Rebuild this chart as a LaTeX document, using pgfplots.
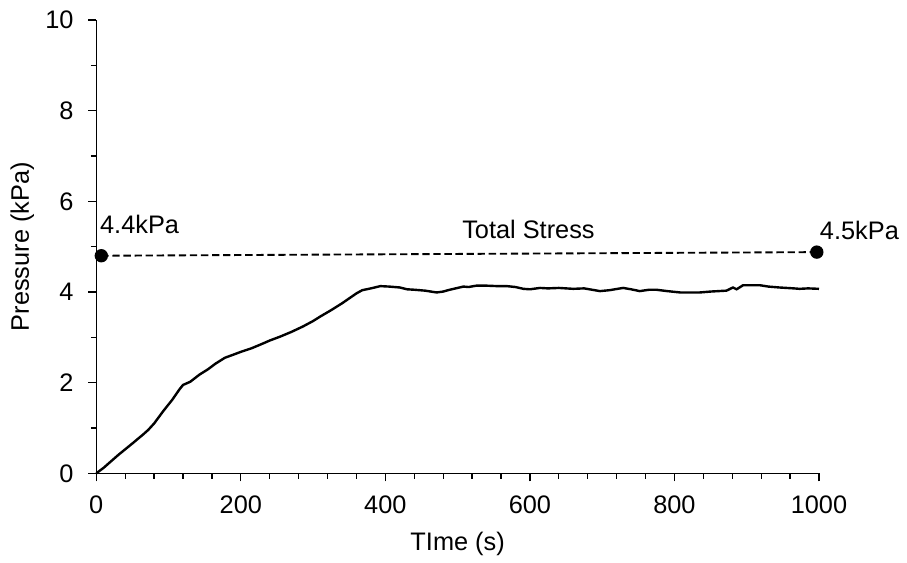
\documentclass[border=0pt]{standalone}
\usepackage{fontspec}
\setmainfont{Liberation Sans}
\usepackage{pgfplots}
\pgfplotsset{compat=1.18}
\begin{document}
\begin{tikzpicture}
\begin{axis}[
  name=ax,
  scale only axis,
  width=542pt, height=340pt,
  xmin=0, xmax=1000, ymin=0, ymax=10,
  axis x line=bottom, axis y line=left,
  axis line style={-, line width=0.9pt},
  xtick={0,200,...,1000}, minor xtick={40,80,...,960},
  ytick={0,2,...,10}, minor ytick={1,3,...,9},
  tick align=outside,
  major tick length=6pt, minor tick length=4pt,
  tick style={line width=0.9pt, black},
  /pgf/number format/assume math mode=true,
  /pgf/number format/1000 sep={},
  ticklabel style={font=\fontsize{19}{23}\selectfont},
  xticklabel style={yshift=-7.5pt},
  yticklabel style={xshift=-7.5pt},
  xlabel={TIme (s)},
  ylabel={Pressure (kPa)},
  xlabel style={font=\fontsize{19}{23}\selectfont, at={(axis description cs:0.5,0)}, anchor=base, yshift=-57.5pt},
  ylabel style={font=\fontsize{19}{23}\selectfont, at={([xshift=-50.5pt]axis description cs:0,0.5)}, anchor=base, rotate=0},
  clip=false,
]
\addplot[black, line width=1.8pt] coordinates {
(0,0) (10,0.12) (20,0.26) (30,0.40) (40,0.53) (50,0.66) (65,0.86) (72,0.96)
(80,1.10) (93,1.38) (105,1.62) (115,1.85) (120,1.95) (130,2.02) (143,2.18)
(155,2.30) (165,2.42) (178,2.55) (190,2.62) (200,2.68) (215,2.76) (230,2.86)
(240,2.93) (255,3.02) (270,3.12) (286,3.24) (300,3.36) (310,3.46) (325,3.60)
(340,3.75) (350,3.86) (360,3.97) (368,4.04) (380,4.08) (393,4.13) (405,4.12)
(420,4.10) (430,4.06) (440,4.05) (455,4.03) (471,3.99) (480,4.01) (489,4.05)
(500,4.09) (508,4.12) (515,4.11) (526,4.14) (540,4.14) (555,4.13) (568,4.13)
(580,4.11) (591,4.07) (600,4.06) (614,4.09) (625,4.08) (640,4.09) (660,4.07)
(675,4.08) (697,4.02) (710,4.04) (729,4.09) (740,4.06) (752,4.02) (765,4.05)
(775,4.05) (790,4.02) (808,3.99) (820,3.99) (835,3.99) (850,4.01) (872,4.03)
(881,4.10) (886,4.06) (895,4.15) (905,4.15) (918,4.15) (930,4.12) (945,4.10)
(955,4.09) (965,4.08) (973,4.07) (985,4.08) (1000,4.07)
};
\addplot[black, line width=1.4pt, dash pattern=on 5.5pt off 2.8pt, mark=*, mark size=4.3pt, mark options={solid}] coordinates {
(7,4.80) (997,4.88)
};
\node[anchor=base west, inner sep=0pt, font=\fontsize{19}{23}\selectfont] at (axis cs:5,5.30) {4.4kPa};
\node[anchor=base, inner sep=0pt, font=\fontsize{19}{23}\selectfont] at (axis cs:598,5.17) {Total Stress};
\node[anchor=base west, inner sep=0pt, font=\fontsize{19}{23}\selectfont] at (axis cs:1001,5.15) {4.5kPa};
\end{axis}
\pgfresetboundingbox
\path[use as bounding box] ([shift={(-72.2pt,-66.5pt)}]ax.south west) rectangle ([shift={(66pt,15pt)}]ax.north east);
\end{tikzpicture}
\end{document}
